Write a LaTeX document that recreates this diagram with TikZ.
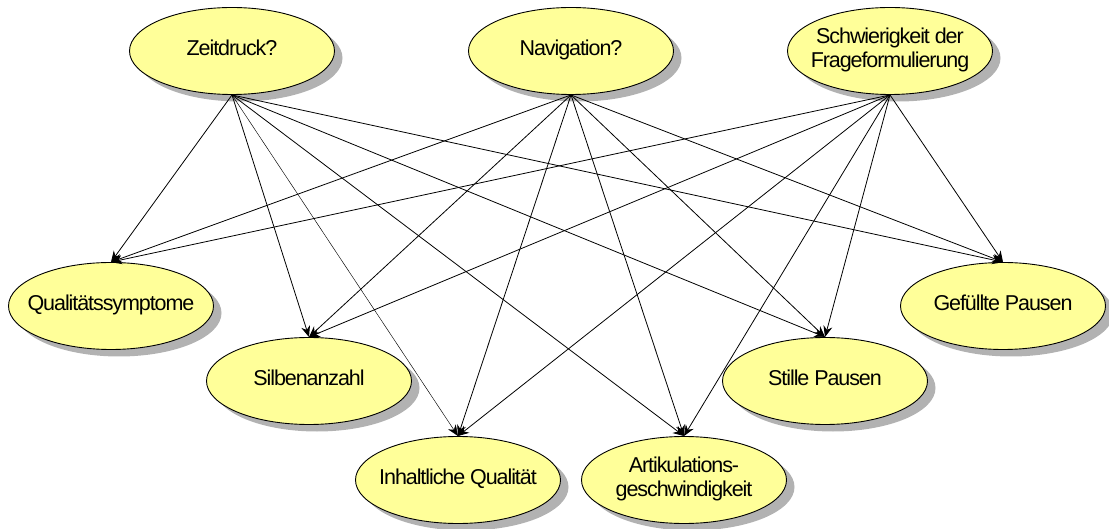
\documentclass[tikz,border=0pt]{standalone}
\usepackage{fontspec}
\setmainfont{Liberation Sans}[LetterSpace=-5]
\usetikzlibrary{shapes.geometric,shadows,arrows.meta}
\definecolor{nodeyellow}{HTML}{FFFF99}
% text that does not widen its ellipse
\newcommand{\vartext}[1]{\raisebox{-2pt}{\makebox[0pt]{\begin{tabular}{@{}c@{}}#1\end{tabular}}}}
\begin{document}
\begin{tikzpicture}[x=1pt,y=-1pt,
  var/.style={ellipse, draw=black, line width=0.9pt, fill=nodeyellow,
    minimum width=205pt, minimum height=87pt, inner sep=0pt,
    font=\fontsize{21.5}{24}\selectfont,
    drop shadow={shadow xshift=8pt, shadow yshift=-7pt, fill=gray!60, opacity=1}},
  link/.style={line width=0.8pt, -{Stealth[length=11pt,width=9pt]}},
  thinlink/.style={link, line width=0.45pt}]
\useasboundingbox (0,0) rectangle (1109,529);
% causes
\node[var] (zeit) at (232,51) {\vartext{Zeitdruck?}};
\node[var] (nav) at (571,51) {\vartext{Navigation?}};
\node[var] (schw) at (890,51) {\vartext{Schwierigkeit der\\Frageformulierung}};
% effects
\node[var] (qs) at (111,306) {\vartext{Qualitätssymptome}};
\node[var] (silb) at (309,381) {\vartext{Silbenanzahl}};
\node[var] (inh) at (458,480) {\vartext{Inhaltliche Qualität}};
\node[var] (art) at (684,480) {\vartext{Artikulations-\\geschwindigkeit}};
\node[var] (still) at (825,381) {\vartext{Stille Pausen}};
\node[var] (gef) at (1003,306) {\vartext{Gefüllte Pausen}};
% every cause points to every effect
\foreach \s/\t/\w in {
    zeit/qs/link, zeit/silb/link, zeit/inh/thinlink, zeit/art/link, zeit/still/link, zeit/gef/link,
    nav/qs/link, nav/silb/link, nav/inh/link, nav/art/link, nav/still/link, nav/gef/link,
    schw/qs/link, schw/silb/link, schw/inh/link, schw/art/link, schw/still/link, schw/gef/link}
  \draw[\w] (\s.south) -- (\t.north);
\end{tikzpicture}
\end{document}
